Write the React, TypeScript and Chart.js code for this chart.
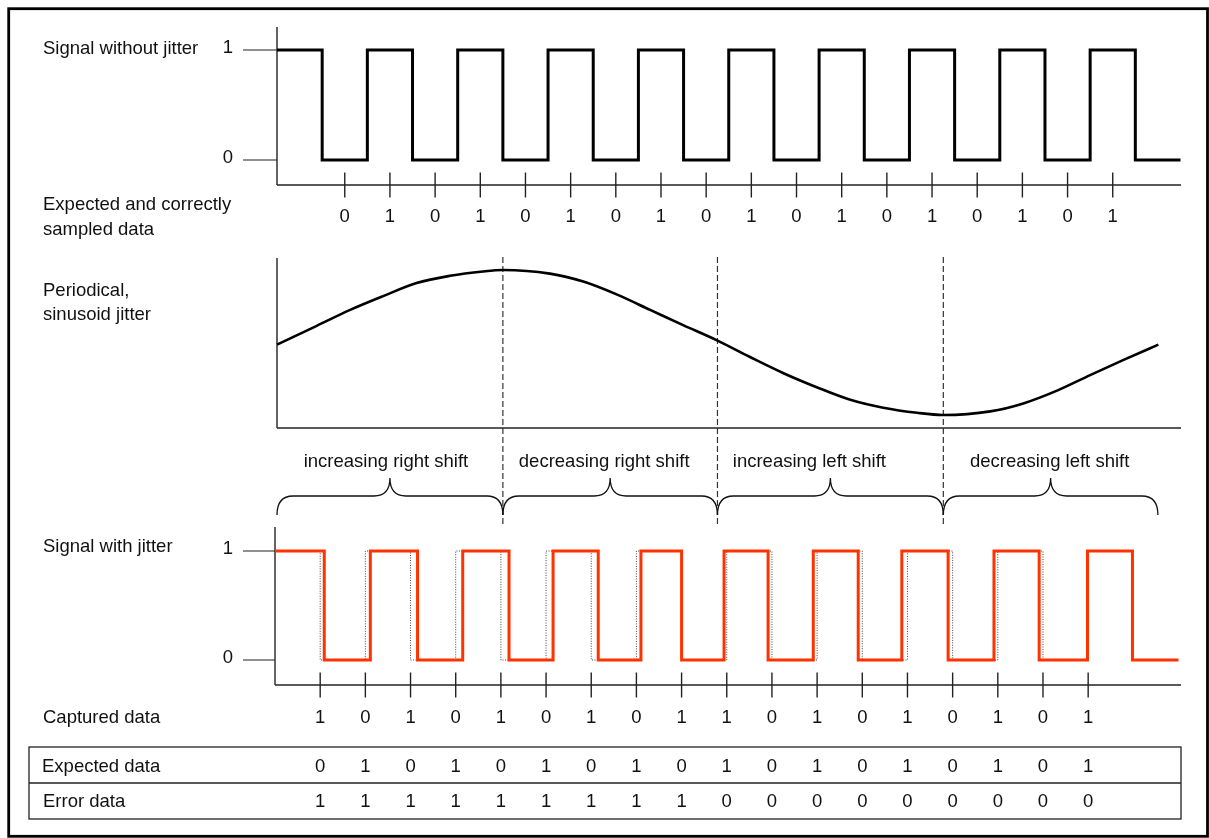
import React, { useEffect, useRef } from "react";
import { Chart, registerables } from "chart.js";

Chart.register(...registerables);

// ---------------- data ----------------
// Clean clock: time (in half-bit units) at which the level changes, and the new level
const cleanEdgeTimes = [0, 1, 2, 3, 4, 5, 6, 7, 8, 9, 10, 11, 12, 13, 14, 15, 16, 17, 18, 19, 20];
const cleanLevels = [1, 0, 1, 0, 1, 0, 1, 0, 1, 0, 1, 0, 1, 0, 1, 0, 1, 0, 1, 0, 0];

// Jittered signal: shifted edges
const jitterEdgeTimes = [0, 1.09, 2.11, 3.155, 4.155, 5.18, 6.155, 7.155, 8.1, 9.0, 9.94, 10.915, 11.915, 12.91, 13.875, 14.9, 15.915, 16.915, 17.985, 18.98, 20];
const jitterLevels = [1, 0, 1, 0, 1, 0, 1, 0, 1, 0, 1, 0, 1, 0, 1, 0, 1, 0, 1, 0, 0];

// Periodical, sinusoid jitter
const jitterPhaseTimes = [0, 0.88, 1.62, 2.35, 3.09, 3.83, 4.56, 5.0, 6.04, 6.78, 7.53, 8.26, 8.99, 9.74, 10.47, 11.2, 11.96, 12.69, 13.42, 14.17, 14.75, 15.79, 16.52, 17.28, 18.0, 18.74, 19.51];
const jitterAmplitude = [-0.03, 0.23, 0.45, 0.64, 0.82, 0.92, 0.98, 1.0, 0.95, 0.84, 0.66, 0.45, 0.24, 0.03, -0.2, -0.42, -0.62, -0.79, -0.9, -0.97, -1.0, -0.95, -0.84, -0.66, -0.45, -0.24, -0.03];

// Sampling
const cleanSampleTimes = [1.5, 2.5, 3.5, 4.5, 5.5, 6.5, 7.5, 8.5, 9.5, 10.5, 11.5, 12.5, 13.5, 14.5, 15.5, 16.5, 17.5, 18.5];
const cleanSampledBits = [0, 1, 0, 1, 0, 1, 0, 1, 0, 1, 0, 1, 0, 1, 0, 1, 0, 1];
const jitterSampleTimes = [1, 2, 3, 4, 5, 6, 7, 8, 9, 10, 11, 12, 13, 14, 15, 16, 17, 18];
const capturedBits = [1, 0, 1, 0, 1, 0, 1, 0, 1, 1, 0, 1, 0, 1, 0, 1, 0, 1];
const expectedBits = [0, 1, 0, 1, 0, 1, 0, 1, 0, 1, 0, 1, 0, 1, 0, 1, 0, 1];
const errorBits = [1, 1, 1, 1, 1, 1, 1, 1, 1, 0, 0, 0, 0, 0, 0, 0, 0, 0];

// Jitter phases
const shiftBoundaries = [0, 5, 9.75, 14.75, 19.5];
const shiftLabels = ["increasing right shift", "decreasing right shift", "increasing left shift", "decreasing left shift"];

// ---------------- layout ----------------
const W = 1209;
const H = 838;
const FONT = "18.5px 'Liberation Sans', Arial, Helvetica, sans-serif";
const INK = "#111";
const AXIS = "#222";
const RED = "#ff3300";
const LABEL_X = 43;
const LEVEL_LINE_X = 243;
const LEVEL_LABEL_X = 233;
const SIG_TOP = 27, SIG_AXIS = 185;
const SIN_TOP = 258, SIN_AXIS = 428;
const JIT_TOP = 527, JIT_AXIS = 685;
const TICK_HALF = 12.5;
const SHIFT_LABEL_Y = 462;
const SHIFT_LABEL_NUDGE = [-4, -6, -21, -1];
const BRACE_TIP = 478, BRACE_MID = 496, BRACE_END = 515, BRACE_R = 16;
const DASH_TOP = 257, DASH_BOTTOM = 527;

// maps two (pixel, value) pairs to a min/max for a full-height hidden y scale
function rangeFor(pxHi: number, vHi: number, pxLo: number, vLo: number) {
  const unit = (pxLo - pxHi) / (vHi - vLo);
  const max = vHi + pxHi / unit;
  const min = max - H / unit;
  return { min, max };
}

const toPoints = (xs: number[], ys: number[]) => xs.map((x, i) => ({ x, y: ys[i] }));

const diagramPlugin = {
  id: "diagram",
  beforeDatasetsDraw(chart: any) {
    const { ctx, scales, chartArea } = chart;
    const x = scales.x, xj = scales.xj, ySig = scales.ySig, yJit = scales.yJit;

    const line = (x1: number, y1: number, x2: number, y2: number, w = 1.4, color = AXIS, dash: number[] = []) => {
      ctx.save();
      ctx.beginPath();
      ctx.lineWidth = w;
      ctx.strokeStyle = color;
      ctx.setLineDash(dash);
      ctx.moveTo(x1, y1);
      ctx.lineTo(x2, y2);
      ctx.stroke();
      ctx.restore();
    };
    const text = (s: string, px: number, py: number, align: CanvasTextAlign = "left") => {
      ctx.save();
      ctx.font = FONT;
      ctx.fillStyle = INK;
      ctx.textAlign = align;
      ctx.textBaseline = "middle";
      ctx.fillText(s, px, py);
      ctx.restore();
    };

    ctx.save();
    // outer frame
    ctx.lineWidth = 2.8;
    ctx.strokeStyle = "#000";
    ctx.strokeRect(8.7, 8.7, 1198.8, 827.6);

    const x0 = x.getPixelForValue(0);
    const xEnd = chartArea.right + 0.5;
    const xj0 = xj.getPixelForValue(0);

    // ---- top panel ----
    line(x0, SIG_TOP, x0, SIG_AXIS);
    line(x0, SIG_AXIS, xEnd, SIG_AXIS);
    [1, 0].forEach((v) => {
      const py = ySig.getPixelForValue(v);
      line(LEVEL_LINE_X, py, x0, py, 1.2);
      text(String(v), LEVEL_LABEL_X, py - 2, "right");
    });
    cleanSampleTimes.forEach((t, i) => {
      const px = x.getPixelForValue(t);
      line(px, SIG_AXIS - TICK_HALF, px, SIG_AXIS + TICK_HALF);
      text(String(cleanSampledBits[i]), px, 216.5, "center");
    });
    text("Signal without jitter", LABEL_X, 48.5);
    text("Expected and correctly", LABEL_X, 205);
    text("sampled data", LABEL_X, 229.5);

    // ---- sinusoid panel ----
    line(x0, SIN_TOP, x0, SIN_AXIS);
    line(x0, SIN_AXIS, xEnd, SIN_AXIS);
    text("Periodical,", LABEL_X, 291);
    text("sinusoid jitter", LABEL_X, 315);

    // phase boundaries
    shiftBoundaries.slice(1, 4).forEach((t) => {
      const px = x.getPixelForValue(t);
      line(px, DASH_TOP, px, DASH_BOTTOM, 1.2, "#333", [6, 3]);
    });

    // braces + labels
    for (let i = 0; i < shiftLabels.length; i++) {
      const a = x.getPixelForValue(shiftBoundaries[i]);
      const b = x.getPixelForValue(shiftBoundaries[i + 1]);
      const m = (a + b) / 2;
      ctx.save();
      ctx.beginPath();
      ctx.lineWidth = 1.3;
      ctx.strokeStyle = "#111";
      ctx.moveTo(a, BRACE_END);
      ctx.quadraticCurveTo(a, BRACE_MID, a + BRACE_R, BRACE_MID);
      ctx.lineTo(m - BRACE_R, BRACE_MID);
      ctx.quadraticCurveTo(m, BRACE_MID, m, BRACE_TIP);
      ctx.quadraticCurveTo(m, BRACE_MID, m + BRACE_R, BRACE_MID);
      ctx.lineTo(b - BRACE_R, BRACE_MID);
      ctx.quadraticCurveTo(b, BRACE_MID, b, BRACE_END);
      ctx.stroke();
      ctx.restore();
      text(shiftLabels[i], m + SHIFT_LABEL_NUDGE[i], SHIFT_LABEL_Y, "center");
    }

    // ---- jitter panel ----
    line(xj0, JIT_TOP, xj0, JIT_AXIS);
    line(xj0, JIT_AXIS, xEnd, JIT_AXIS);
    [1, 0].forEach((v) => {
      const py = yJit.getPixelForValue(v);
      line(LEVEL_LINE_X, py, xj0, py, 1.2);
      text(String(v), LEVEL_LABEL_X, py - 2, "right");
    });
    text("Signal with jitter", LABEL_X, 547);
    jitterSampleTimes.forEach((t, i) => {
      const px = xj.getPixelForValue(t);
      line(px, JIT_AXIS - TICK_HALF, px, JIT_AXIS + TICK_HALF);
      text(String(capturedBits[i]), px, 718, "center");
      text(String(expectedBits[i]), px, 767, "center");
      text(String(errorBits[i]), px, 802, "center");
    });
    text("Captured data", LABEL_X, 718);

    // table
    ctx.lineWidth = 1.3;
    ctx.strokeStyle = AXIS;
    ctx.strokeRect(29, 747, 1152, 72);
    line(29, 783, 1181, 783, 1.3);
    text("Expected data", 42, 767);
    text("Error data", LABEL_X, 802);

    ctx.restore();
  },
};

export default function App() {
  const ref = useRef<HTMLCanvasElement>(null);

  useEffect(() => {
    document.body.style.margin = "0";
    const hidden = { display: false, grid: { display: false }, ticks: { display: false } };
    const chart = new Chart(ref.current as HTMLCanvasElement, {
      type: "line",
      data: {
        datasets: [
          {
            label: "Signal with jitter",
            data: toPoints(jitterEdgeTimes, jitterLevels),
            xAxisID: "xj",
            yAxisID: "yJit",
            stepped: "before",
            borderColor: RED,
            borderWidth: 3,
            pointRadius: 0,
            borderJoinStyle: "miter",
            fill: false,
            clip: false,
          },
          {
            label: "Ideal edges",
            data: toPoints(cleanEdgeTimes, cleanLevels),
            xAxisID: "xj",
            yAxisID: "yJit",
            stepped: "before",
            borderColor: "#444",
            borderWidth: 1,
            borderDash: [1, 1.5],
            pointRadius: 0,
            fill: false,
            clip: false,
          },
          {
            label: "Periodical, sinusoid jitter",
            data: toPoints(jitterPhaseTimes, jitterAmplitude),
            xAxisID: "x",
            yAxisID: "ySin",
            borderColor: "#000",
            borderWidth: 2.6,
            pointRadius: 0,
            cubicInterpolationMode: "monotone",
            fill: false,
            clip: false,
          },
          {
            label: "Signal without jitter",
            data: toPoints(cleanEdgeTimes, cleanLevels),
            xAxisID: "x",
            yAxisID: "ySig",
            stepped: "before",
            borderColor: "#000",
            borderWidth: 3,
            pointRadius: 0,
            borderJoinStyle: "miter",
            fill: false,
            clip: false,
          },
        ] as any,
      },
      options: {
        responsive: false,
        animation: false,
        events: [],
        layout: { autoPadding: false, padding: { left: 277, right: W - 1180.5, top: 0, bottom: 0 } },
        plugins: { legend: { display: false }, tooltip: { enabled: false }, title: { display: false } },
        scales: {
          x: { type: "linear", min: 0, max: 20, bounds: "data", ...hidden },
          xj: { type: "linear", axis: "x", position: "bottom", min: 0.044, max: 20.044, bounds: "data", ...hidden },
          ySig: { type: "linear", axis: "y", bounds: "data", ...rangeFor(50, 1, 160, 0), ...hidden },
          ySin: { type: "linear", axis: "y", bounds: "data", ...rangeFor(270, 1, 415, -1), ...hidden },
          yJit: { type: "linear", axis: "y", bounds: "data", ...rangeFor(551, 1, 660, 0), ...hidden },
        } as any,
      },
      plugins: [diagramPlugin],
    });
    return () => chart.destroy();
  }, []);

  return (
    <div style={{ position: "absolute", left: 0, top: 0, width: W, height: H, background: "#fff" }}>
      <canvas ref={ref} width={W} height={H} style={{ width: W, height: H, display: "block" }} />
    </div>
  );
}
